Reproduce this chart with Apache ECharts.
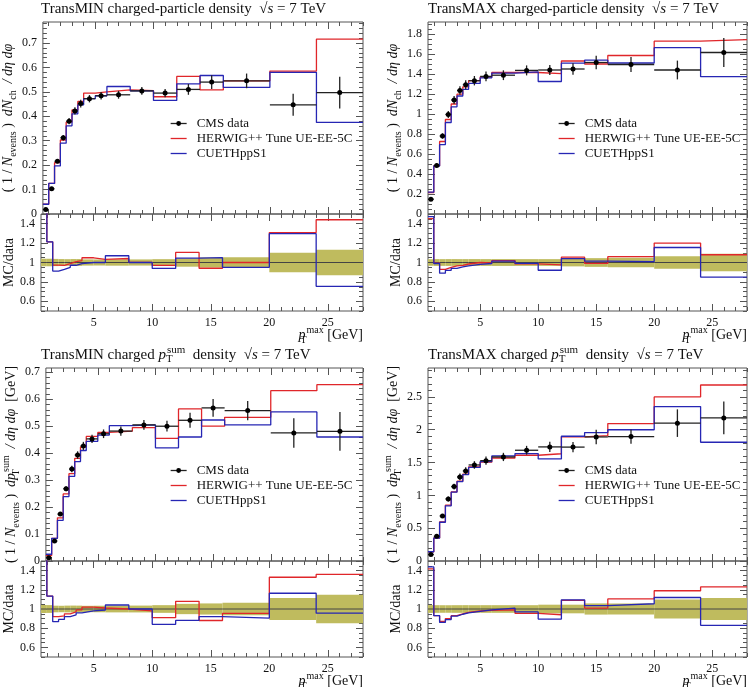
<!DOCTYPE html>
<html><head><meta charset="utf-8">
<script src="https://cdn.jsdelivr.net/npm/echarts@6/dist/echarts.min.js"></script>
<style>html,body{margin:0;padding:0;background:#fff}#c{width:752px;height:687px}</style>
</head><body><div id="c"></div>
<script>
// ---------------- data ----------------
const binEdges = [0.5,1,1.5,2,2.5,3,3.5,4,5,6,8,10,12,14,16,20,24,28];

// TransMIN charged-particle density
const minNchData   = [0.018,0.103,0.216,0.312,0.380,0.422,0.452,0.472,0.484,0.488,0.504,0.495,0.510,0.540,0.545,0.447,0.497];
const minNchErr    = [0.0007,0.004,0.008,0.011,0.013,0.015,0.016,0.015,0.015,0.016,0.016,0.017,0.022,0.028,0.030,0.045,0.065];
const minNchHerwig = [0.040,0.125,0.210,0.303,0.376,0.426,0.461,0.495,0.500,0.508,0.505,0.480,0.563,0.508,0.545,0.585,0.716];
const minNchCueth  = [0.040,0.125,0.197,0.290,0.361,0.410,0.447,0.472,0.484,0.522,0.504,0.465,0.533,0.567,0.518,0.580,0.375];

// TransMAX charged-particle density
const maxNchData   = [0.148,0.485,0.780,0.995,1.140,1.235,1.292,1.333,1.376,1.388,1.436,1.440,1.450,1.515,1.495,1.440,1.615];
const maxNchErr    = [0.005,0.017,0.027,0.035,0.040,0.043,0.045,0.047,0.048,0.049,0.050,0.050,0.058,0.068,0.075,0.094,0.145];
const maxNchHerwig = [0.215,0.482,0.725,0.945,1.100,1.198,1.272,1.333,1.370,1.415,1.415,1.404,1.530,1.500,1.585,1.728,1.744];
const maxNchCueth  = [0.218,0.480,0.694,0.915,1.072,1.180,1.247,1.306,1.362,1.409,1.422,1.325,1.508,1.538,1.510,1.663,1.373];

// TransMIN charged pT-sum density
const minPtData   = [0.012,0.074,0.174,0.268,0.341,0.393,0.427,0.453,0.472,0.482,0.505,0.500,0.522,0.568,0.558,0.475,0.481];
const minPtErr    = [0.0005,0.003,0.006,0.009,0.012,0.014,0.015,0.015,0.016,0.017,0.018,0.020,0.028,0.033,0.036,0.055,0.072];
const minPtHerwig = [0.020,0.084,0.160,0.249,0.324,0.381,0.423,0.462,0.477,0.482,0.495,0.455,0.564,0.500,0.533,0.632,0.654];
const minPtCueth  = [0.025,0.084,0.151,0.239,0.314,0.369,0.410,0.444,0.467,0.502,0.505,0.420,0.460,0.523,0.505,0.553,0.460];

// TransMAX charged pT-sum density
const maxPtData   = [0.098,0.376,0.686,0.945,1.133,1.280,1.372,1.463,1.529,1.585,1.687,1.738,1.735,1.890,1.895,2.100,2.180];
const maxPtErr    = [0.004,0.015,0.027,0.037,0.045,0.051,0.055,0.058,0.061,0.063,0.067,0.078,0.078,0.110,0.110,0.210,0.250];
const maxPtHerwig = [0.139,0.350,0.597,0.851,1.054,1.216,1.324,1.434,1.506,1.569,1.611,1.634,1.891,1.909,2.094,2.499,2.681];
const maxPtCueth  = [0.141,0.350,0.590,0.841,1.048,1.210,1.317,1.426,1.514,1.601,1.636,1.555,1.900,1.956,1.999,2.352,1.809];

// ticks
const xTickValues = [5,10,15,20,25];
const xTickLabels = ['5','10','15','20','25'];
const minNchYTicks = [0,0.1,0.2,0.3,0.4,0.5,0.6,0.7];
const maxNchYTicks = [0,0.2,0.4,0.6,0.8,1,1.2,1.4,1.6,1.8];
const minPtYTicks  = [0,0.1,0.2,0.3,0.4,0.5,0.6,0.7];
const maxPtYTicks  = [0,0.5,1,1.5,2,2.5];
const ratioYTicks  = [0.6,0.8,1,1.2,1.4];

// names
const DATA_NAME = 'CMS data';
const HERWIG_NAME = 'HERWIG++ Tune UE-EE-5C';
const CUETH_NAME = 'CUETHppS1';

// ---------------- style ----------------
const FONT = "'Liberation Serif', 'DejaVu Serif', serif";
const RED = '#e0262a', BLUE = '#2626b4', BAND = '#bfbb5e', FRAME = '#555', TICK = '#555', INK = '#111';

function makeRich(fs) {
  const sfs = Math.round(fs * 0.7);
  return {
    t:   {fontFamily: FONT, fontSize: fs, fontWeight: 'normal', lineHeight: 20, verticalAlign: 'middle', color: INK},
    i:   {fontFamily: FONT, fontSize: fs, fontWeight: 'normal', lineHeight: 20, verticalAlign: 'middle', fontStyle: 'italic', color: INK},
    sub: {fontFamily: FONT, fontSize: sfs, fontWeight: 'normal', lineHeight: 10, verticalAlign: 'bottom', color: INK},
    subw:{fontFamily: FONT, fontSize: sfs, fontWeight: 'normal', lineHeight: 10, verticalAlign: 'bottom', color: INK, width: 1},
    sup: {fontFamily: FONT, fontSize: sfs, fontWeight: 'normal', lineHeight: 10, verticalAlign: 'top', color: INK}
  };
}
const richAxis = makeRich(14);
const richTitle = makeRich(15);

const nchTitleY = '{t|( 1 / }{i|N}{sub|events}{t| )  }{i|dN}{sub|ch}{i|  / dη dφ}';
const ptTitleY  = '{t|( 1 / }{i|N}{sub|events}{t| )  }{i|dp}{subw|T}{sup|sum}{i|  / dη dφ}{t|  [GeV]}';

const panels = [
  {title: '{t|TransMIN charged-particle density  }{i|√s}{t| = 7 TeV}', ytitle: nchTitleY,
   data: minNchData, err: minNchErr, herwig: minNchHerwig, cueth: minNchCueth,
   yTicks: minNchYTicks, yMax: 0.786, yMinor: 0.02,
   left: 41, width: 322, top: 22, mainH: 192, ratioH: 97, legendLeft: 170, legendTop: 116},
  {title: '{t|TransMAX charged-particle density  }{i|√s}{t| = 7 TeV}', ytitle: nchTitleY,
   data: maxNchData, err: maxNchErr, herwig: maxNchHerwig, cueth: maxNchCueth,
   yTicks: maxNchYTicks, yMax: 1.92, yMinor: 0.05,
   left: 428, width: 319, top: 22, mainH: 192, ratioH: 97, legendLeft: 558, legendTop: 116},
  {title: '{t|TransMIN charged }{i|p}{subw|T}{sup|sum}{t|  density  }{i|√s}{t| = 7 TeV}', ytitle: ptTitleY,
   data: minPtData, err: minPtErr, herwig: minPtHerwig, cueth: minPtCueth,
   yTicks: minPtYTicks, yMax: 0.716, yMinor: 0.02,
   left: 41, width: 322, top: 368, mainH: 193, ratioH: 96, legendLeft: 170, legendTop: 463},
  {title: '{t|TransMAX charged }{i|p}{subw|T}{sup|sum}{t|  density  }{i|√s}{t| = 7 TeV}', ytitle: ptTitleY,
   data: maxPtData, err: maxPtErr, herwig: maxPtHerwig, cueth: maxPtCueth,
   yTicks: maxPtYTicks, yMax: 2.94, yMinor: 0.1,
   left: 428, width: 319, top: 368, mainH: 193, ratioH: 96, legendLeft: 558, legendTop: 463}
];

function range(lo, hi, step) {
  const a = [];
  const n = Math.round((hi - lo) / step);
  for (let k = 0; k <= n; k++) a.push(+(lo + k * step).toFixed(4));
  return a;
}
const xMinor = range(1, 28, 1);

const option = {animation: false, grid: [], xAxis: [], yAxis: [], series: [], title: [], legend: [], graphic: []};

function tickStyle() { return {color: TICK, width: 1}; }

function addXAxes(gi, withLabels) {
  const base = () => ({gridIndex: gi, type: 'value', min: 0.5, max: 28,
    axisLine: {show: false, onZero: false}, splitLine: {show: false}, axisLabel: {show: false}});
  const idx = option.xAxis.length;
  const major = Object.assign(base(), {position: 'bottom',
    axisTick: {show: true, inside: true, length: 7, customValues: xTickValues, lineStyle: tickStyle()}});
  if (withLabels) {
    major.axisLabel = {show: true, customValues: xTickValues, color: INK, fontFamily: FONT, fontSize: 12, margin: 6,
      formatter: v => xTickLabels[xTickValues.indexOf(v)]};
  }
  option.xAxis.push(major);
  option.xAxis.push(Object.assign(base(), {position: 'bottom',
    axisTick: {show: true, inside: true, length: 4, customValues: xMinor, lineStyle: tickStyle()}}));
  option.xAxis.push(Object.assign(base(), {position: 'top',
    axisTick: {show: true, inside: true, length: 7, customValues: xTickValues, lineStyle: tickStyle()}}));
  option.xAxis.push(Object.assign(base(), {position: 'top',
    axisTick: {show: true, inside: true, length: 4, customValues: xMinor, lineStyle: tickStyle()}}));
  return idx;
}

function addYAxes(gi, min, max, ticks, minorStep, name) {
  const minor = range(Math.ceil(min / minorStep - 1e-9) * minorStep, max - 1e-9, minorStep);
  const base = () => ({gridIndex: gi, type: 'value', min: min, max: max,
    axisLine: {show: false, onZero: false}, splitLine: {show: false}, axisLabel: {show: false}});
  const idx = option.yAxis.length;
  option.yAxis.push(Object.assign(base(), {position: 'left',
    axisTick: {show: true, inside: true, length: 7, customValues: ticks, lineStyle: tickStyle()},
    axisLabel: {show: true, customValues: ticks, color: INK, fontFamily: FONT, fontSize: 12, margin: 6,
      formatter: v => String(v)},
    name: name, nameLocation: 'middle', nameRotate: 90, nameGap: 20,
    nameTextStyle: {rich: richAxis, fontFamily: FONT, fontSize: 14, color: INK}}));
  option.yAxis.push(Object.assign(base(), {position: 'left',
    axisTick: {show: true, inside: true, length: 4, customValues: minor, lineStyle: tickStyle()}}));
  option.yAxis.push(Object.assign(base(), {position: 'right',
    axisTick: {show: true, inside: true, length: 7, customValues: ticks, lineStyle: tickStyle()}}));
  option.yAxis.push(Object.assign(base(), {position: 'right',
    axisTick: {show: true, inside: true, length: 4, customValues: minor, lineStyle: tickStyle()}}));
  return idx;
}

function stepData(vals) {
  return binEdges.map((e, i) => [e, vals[Math.min(i, vals.length - 1)]]);
}

function errRender(params, api) {
  const lo = api.value(0), hi = api.value(1), c = api.value(2), y = api.value(3), e = api.value(4);
  const pL = api.coord([lo, y]), pR = api.coord([hi, y]);
  const pT = api.coord([c, y + e]), pB = api.coord([c, y - e]);
  const st = {stroke: '#222', lineWidth: 1.3};
  return {type: 'group', children: [
    {type: 'line', shape: {x1: pL[0], y1: pL[1], x2: pR[0], y2: pR[1]}, style: st},
    {type: 'line', shape: {x1: pT[0], y1: pT[1], x2: pB[0], y2: pB[1]}, style: st}
  ]};
}

function bandRender(params, api) {
  const lo = api.value(0), hi = api.value(1), r = api.value(2);
  const a = api.coord([lo, 1 + r]), b = api.coord([hi, 1 - r]);
  return {type: 'rect', shape: {x: a[0], y: a[1], width: b[0] - a[0], height: b[1] - a[1]},
    style: {fill: BAND}};
}

panels.forEach((p) => {
  const gMain = option.grid.length;
  option.grid.push({left: p.left, top: p.top, width: p.width, height: p.mainH, show: true,
    borderColor: FRAME, borderWidth: 1, backgroundColor: 'transparent'});
  const gRatio = gMain + 1;
  option.grid.push({left: p.left, top: p.top + p.mainH, width: p.width, height: p.ratioH, show: true,
    borderColor: FRAME, borderWidth: 1, backgroundColor: 'transparent'});

  const mx = addXAxes(gMain, false);
  const my = addYAxes(gMain, 0, p.yMax, p.yTicks, p.yMinor, p.ytitle);
  const rx = addXAxes(gRatio, true);
  const ry = addYAxes(gRatio, 0.5, 1.5, ratioYTicks, 0.05, '{t|MC/data}');

  const centers = p.data.map((v, i) => (binEdges[i] + binEdges[i + 1]) / 2);

  // main plot
  option.series.push({type: 'line', name: HERWIG_NAME, xAxisIndex: mx, yAxisIndex: my, step: 'end',
    symbol: 'none', data: stepData(p.herwig), lineStyle: {color: RED, width: 1.3}, itemStyle: {color: RED}, z: 3});
  option.series.push({type: 'line', name: CUETH_NAME, xAxisIndex: mx, yAxisIndex: my, step: 'end',
    symbol: 'none', data: stepData(p.cueth), lineStyle: {color: BLUE, width: 1.3}, itemStyle: {color: BLUE}, z: 3});
  option.series.push({type: 'custom', name: 'CMS data errors', xAxisIndex: mx, yAxisIndex: my, clip: true,
    renderItem: errRender, encode: {x: [0, 1, 2], y: [3, 4]},
    data: p.data.map((v, i) => [binEdges[i], binEdges[i + 1], centers[i], v, p.err[i]]), z: 4});
  option.series.push({type: 'line', name: DATA_NAME, xAxisIndex: mx, yAxisIndex: my,
    symbol: 'circle', symbolSize: 5, data: p.data.map((v, i) => [centers[i], v]),
    lineStyle: {width: 0, color: '#222'}, itemStyle: {color: '#000'}, z: 5});

  // ratio plot
  option.series.push({type: 'custom', name: 'band', xAxisIndex: rx, yAxisIndex: ry, clip: true,
    renderItem: bandRender, encode: {x: [0, 1], y: 2},
    data: p.data.map((v, i) => [binEdges[i], binEdges[i + 1], p.err[i] / v]), z: 2});
  option.series.push({type: 'line', name: 'data ratio', xAxisIndex: rx, yAxisIndex: ry, step: 'end',
    symbol: 'none', data: stepData(p.data.map(v => v / v)), lineStyle: {color: '#444', width: 1}, z: 3});
  option.series.push({type: 'line', name: HERWIG_NAME, xAxisIndex: rx, yAxisIndex: ry, step: 'end',
    symbol: 'none', data: stepData(p.herwig.map((v, i) => v / p.data[i])), lineStyle: {color: RED, width: 1.3}, z: 4});
  option.series.push({type: 'line', name: CUETH_NAME, xAxisIndex: rx, yAxisIndex: ry, step: 'end',
    symbol: 'none', data: stepData(p.cueth.map((v, i) => v / p.data[i])), lineStyle: {color: BLUE, width: 1.3}, z: 4});

  option.title.push({text: p.title, left: p.left, top: p.top - 23, padding: 0,
    textStyle: {rich: richTitle, fontFamily: FONT, fontSize: 15, fontWeight: 'normal', color: INK}});

  option.legend.push({orient: 'vertical', left: p.legendLeft, top: p.legendTop, padding: 0,
    itemWidth: 16, itemHeight: 6, itemGap: 0, selectedMode: false,
    lineStyle: {width: 1.3},
    textStyle: {fontFamily: FONT, fontSize: 13, color: INK, lineHeight: 15, padding: [0, 0, 0, 5]},
    data: [{name: DATA_NAME, lineStyle: {color: '#222', width: 1.3}},
           {name: HERWIG_NAME, itemStyle: {opacity: 0}},
           {name: CUETH_NAME, itemStyle: {opacity: 0}}]});

  option.graphic.push({type: 'text', x: p.left + p.width, y: p.top + p.mainH + p.ratioH + 24,
    style: {text: '{i|p}{subw|T}{sup|max}{t| [GeV]}', rich: richAxis, align: 'right', verticalAlign: 'middle',
      fontFamily: FONT, fontSize: 14, fill: INK}});
});

const chart = echarts.init(document.getElementById('c'), null, {renderer: 'canvas'});
chart.setOption(option);
</script>
</body></html>
